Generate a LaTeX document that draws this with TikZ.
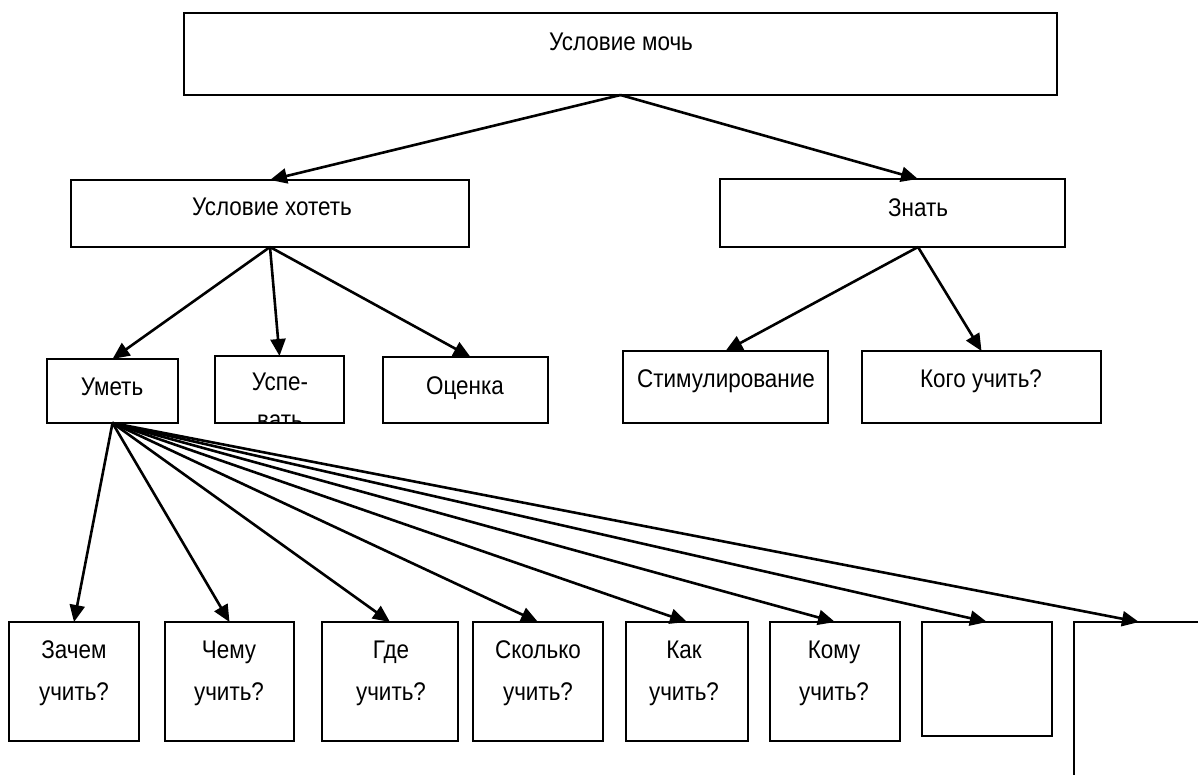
\documentclass[tikz,border=0pt]{standalone}
\usepackage{fontspec}
\setmainfont{Liberation Sans}[FakeStretch=0.88]
\usetikzlibrary{arrows.meta}
\begin{document}
\begin{tikzpicture}[x=1pt,y=-1pt,
  box/.style={draw=black, line width=2.2pt, anchor=north west, inner sep=0pt, outer sep=0pt},
  txt/.style={font=\fontsize{25.5}{42}\selectfont, inner sep=0pt, anchor=base, align=center},
  link/.style={line width=2.6pt, -{Triangle[length=17pt,width=15pt]}}]
\useasboundingbox (0,0) rectangle (1198,775);
\clip (0,0) rectangle (1198,775);

% frames
\node[box, minimum width=873pt, minimum height=82pt] (moch) at (184,13) {};
\node[box, minimum width=398pt, minimum height=67pt] (uh) at (71,180) {};
\node[box, minimum width=345pt, minimum height=68pt] (znat) at (720,179) {};
\node[box, minimum width=131pt, minimum height=64pt] (umet) at (47,359) {};
\node[box, minimum width=129pt, minimum height=67pt] (uspe) at (215,356) {};
\node[box, minimum width=165pt, minimum height=66pt] (ocen) at (383,357) {};
\node[box, minimum width=205pt, minimum height=72pt] (stim) at (623,351) {};
\node[box, minimum width=239pt, minimum height=72pt] (kogo) at (862,351) {};
\node[box, minimum width=130pt, minimum height=119pt] (b1) at (9,622) {};
\node[box, minimum width=129pt, minimum height=119pt] (b2) at (165,622) {};
\node[box, minimum width=136pt, minimum height=119pt] (b3) at (322,622) {};
\node[box, minimum width=130pt, minimum height=119pt] (b4) at (473,622) {};
\node[box, minimum width=122pt, minimum height=119pt] (b5) at (626,622) {};
\node[box, minimum width=130pt, minimum height=119pt] (b6) at (770,622) {};
\node[box, minimum width=130pt, minimum height=114pt] (b7) at (922,622) {};
\node[box, minimum width=130pt, minimum height=170pt] (b8) at (1074,622) {};

% labels
\node[txt] (mochT) at (621,51) {Условие мочь};
\node[txt] (uhT) at (272,216) {Условие хотеть};
\node[txt] (znatT) at (918,217) {Знать};
\node[txt] (umetT) at (112,395) {Уметь};
\node[txt] (ocenT) at (465,394) {Оценка};
\node[txt] (stimT) at (726,387) {Стимулирование};
\node[txt] (kogoT) at (981,387) {Кого учить?};
\begin{scope}
  \clip (uspe.north west) rectangle (uspe.south east);
  \node[txt, font=\fontsize{25.5}{38}\selectfont] (uspeT) at (280,428) {Успе-\\вать};
\end{scope}
\node[txt] (b1T) at (74,700) {Зачем\\учить?};
\node[txt] (b2T) at (229,700) {Чему\\учить?};
\node[txt] (b3T) at (391,700) {Где\\учить?};
\node[txt] (b4T) at (538,700) {Сколько\\учить?};
\node[txt] (b5T) at (684,700) {Как\\учить?};
\node[txt] (b6T) at (834,700) {Кому\\учить?};

% connectors
\draw[link] (moch.south) -- (uh.north);
\draw[link] (moch.south) -- ([xshift=25.5pt]znat.north);
\draw[link] (uh.south) -- (umet.north);
\draw[link] (uh.south) -- (uspe.north);
\draw[link] (uh.south) -- ([xshift=5pt]ocen.north);
\draw[link] ([xshift=25.5pt]znat.south) -- (stim.north);
\draw[link] ([xshift=25.5pt]znat.south) -- (kogo.north);
\foreach \b in {b1,b2,b3,b4,b5,b6,b7,b8}
  \draw[link] (umet.south) -- (\b.north);
\end{tikzpicture}
\end{document}
